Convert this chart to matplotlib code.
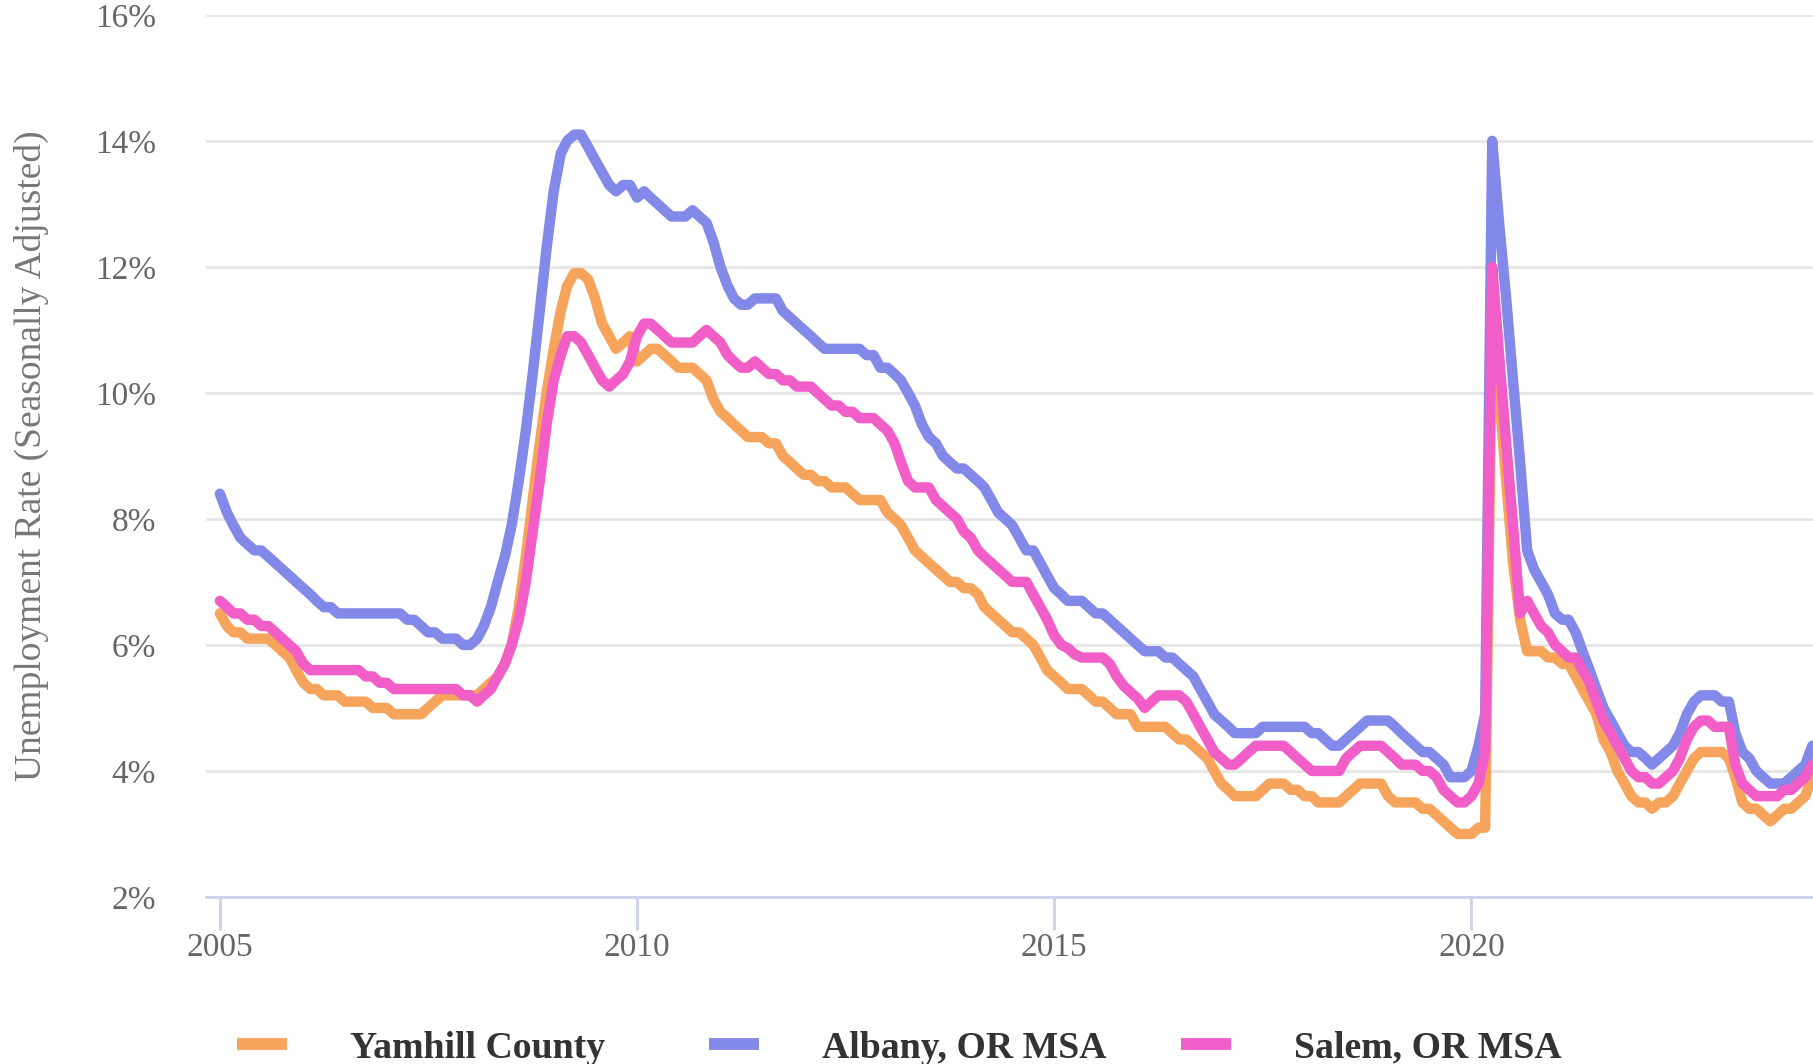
import matplotlib
matplotlib.use('Agg')
import matplotlib.pyplot as plt
import matplotlib.dates as mdates
from matplotlib.lines import Line2D
import pandas as pd

# monthly unemployment rate (%), Jan 2005 - Feb 2024
yamhill = [
    6.5, 6.3, 6.2, 6.2, 6.1, 6.1, 6.1, 6.1, 6.0, 5.9, 5.8, 5.6,        # 2005
    5.4, 5.3, 5.3, 5.2, 5.2, 5.2, 5.1, 5.1, 5.1, 5.1, 5.0, 5.0,        # 2006
    5.0, 4.9, 4.9, 4.9, 4.9, 4.9, 5.0, 5.1, 5.2, 5.2, 5.2, 5.2,        # 2007
    5.2, 5.2, 5.3, 5.4, 5.5, 5.7, 6.0, 6.6, 7.4, 8.3, 9.2, 10.0,       # 2008
    10.7, 11.3, 11.7, 11.9, 11.9, 11.8, 11.5, 11.1, 10.9, 10.7, 10.8, 10.9,  # 2009
    10.5, 10.6, 10.7, 10.7, 10.6, 10.5, 10.4, 10.4, 10.4, 10.3, 10.2, 9.9,   # 2010
    9.7, 9.6, 9.5, 9.4, 9.3, 9.3, 9.3, 9.2, 9.2, 9.0, 8.9, 8.8,        # 2011
    8.7, 8.7, 8.6, 8.6, 8.5, 8.5, 8.5, 8.4, 8.3, 8.3, 8.3, 8.3,        # 2012
    8.1, 8.0, 7.9, 7.7, 7.5, 7.4, 7.3, 7.2, 7.1, 7.0, 7.0, 6.9,        # 2013
    6.9, 6.8, 6.6, 6.5, 6.4, 6.3, 6.2, 6.2, 6.1, 6.0, 5.8, 5.6,        # 2014
    5.5, 5.4, 5.3, 5.3, 5.3, 5.2, 5.1, 5.1, 5.0, 4.9, 4.9, 4.9,        # 2015
    4.7, 4.7, 4.7, 4.7, 4.7, 4.6, 4.5, 4.5, 4.4, 4.3, 4.2, 4.0,        # 2016
    3.8, 3.7, 3.6, 3.6, 3.6, 3.6, 3.7, 3.8, 3.8, 3.8, 3.7, 3.7,        # 2017
    3.6, 3.6, 3.5, 3.5, 3.5, 3.5, 3.6, 3.7, 3.8, 3.8, 3.8, 3.8,        # 2018
    3.6, 3.5, 3.5, 3.5, 3.5, 3.4, 3.4, 3.3, 3.2, 3.1, 3.0, 3.0,        # 2019
    3.0, 3.1, 3.1, 11.4, 10.0, 8.6, 7.3, 6.4, 5.9, 5.9, 5.9, 5.8,      # 2020
    5.8, 5.7, 5.7, 5.5, 5.3, 5.1, 4.9, 4.5, 4.3, 4.0, 3.8, 3.6,        # 2021
    3.5, 3.5, 3.4, 3.5, 3.5, 3.6, 3.8, 4.0, 4.2, 4.3, 4.3, 4.3,        # 2022
    4.3, 4.2, 3.9, 3.5, 3.4, 3.4, 3.3, 3.2, 3.3, 3.4, 3.4, 3.5,        # 2023
    3.6, 3.9,                                                          # 2024
]

albany = [
    8.4, 8.1, 7.9, 7.7, 7.6, 7.5, 7.5, 7.4, 7.3, 7.2, 7.1, 7.0,        # 2005
    6.9, 6.8, 6.7, 6.6, 6.6, 6.5, 6.5, 6.5, 6.5, 6.5, 6.5, 6.5,        # 2006
    6.5, 6.5, 6.5, 6.4, 6.4, 6.3, 6.2, 6.2, 6.1, 6.1, 6.1, 6.0,        # 2007
    6.0, 6.1, 6.3, 6.6, 7.0, 7.4, 7.9, 8.6, 9.4, 10.3, 11.3, 12.3,     # 2008
    13.2, 13.8, 14.0, 14.1, 14.1, 13.9, 13.7, 13.5, 13.3, 13.2, 13.3, 13.3,  # 2009
    13.1, 13.2, 13.1, 13.0, 12.9, 12.8, 12.8, 12.8, 12.9, 12.8, 12.7, 12.4,  # 2010
    12.0, 11.7, 11.5, 11.4, 11.4, 11.5, 11.5, 11.5, 11.5, 11.3, 11.2, 11.1,  # 2011
    11.0, 10.9, 10.8, 10.7, 10.7, 10.7, 10.7, 10.7, 10.7, 10.6, 10.6, 10.4,  # 2012
    10.4, 10.3, 10.2, 10.0, 9.8, 9.5, 9.3, 9.2, 9.0, 8.9, 8.8, 8.8,    # 2013
    8.7, 8.6, 8.5, 8.3, 8.1, 8.0, 7.9, 7.7, 7.5, 7.5, 7.3, 7.1,        # 2014
    6.9, 6.8, 6.7, 6.7, 6.7, 6.6, 6.5, 6.5, 6.4, 6.3, 6.2, 6.1,        # 2015
    6.0, 5.9, 5.9, 5.9, 5.8, 5.8, 5.7, 5.6, 5.5, 5.3, 5.1, 4.9,        # 2016
    4.8, 4.7, 4.6, 4.6, 4.6, 4.6, 4.7, 4.7, 4.7, 4.7, 4.7, 4.7,        # 2017
    4.7, 4.6, 4.6, 4.5, 4.4, 4.4, 4.5, 4.6, 4.7, 4.8, 4.8, 4.8,        # 2018
    4.8, 4.7, 4.6, 4.5, 4.4, 4.3, 4.3, 4.2, 4.1, 3.9, 3.9, 3.9,        # 2019
    4.0, 4.4, 4.9, 14.0, 12.7, 11.5, 10.2, 8.9, 7.5, 7.2, 7.0, 6.8,    # 2020
    6.5, 6.4, 6.4, 6.2, 5.9, 5.6, 5.3, 5.0, 4.8, 4.6, 4.4, 4.3,        # 2021
    4.3, 4.2, 4.1, 4.2, 4.3, 4.4, 4.6, 4.9, 5.1, 5.2, 5.2, 5.2,        # 2022
    5.1, 5.1, 4.6, 4.3, 4.2, 4.0, 3.9, 3.8, 3.8, 3.8, 3.9, 4.0,        # 2023
    4.1, 4.4,                                                          # 2024
]

salem = [
    6.7, 6.6, 6.5, 6.5, 6.4, 6.4, 6.3, 6.3, 6.2, 6.1, 6.0, 5.9,        # 2005
    5.7, 5.6, 5.6, 5.6, 5.6, 5.6, 5.6, 5.6, 5.6, 5.5, 5.5, 5.4,        # 2006
    5.4, 5.3, 5.3, 5.3, 5.3, 5.3, 5.3, 5.3, 5.3, 5.3, 5.3, 5.2,        # 2007
    5.2, 5.1, 5.2, 5.3, 5.5, 5.7, 6.0, 6.4, 7.0, 7.8, 8.6, 9.5,        # 2008
    10.2, 10.6, 10.9, 10.9, 10.8, 10.6, 10.4, 10.2, 10.1, 10.2, 10.3, 10.5,  # 2009
    10.9, 11.1, 11.1, 11.0, 10.9, 10.8, 10.8, 10.8, 10.8, 10.9, 11.0, 10.9,  # 2010
    10.8, 10.6, 10.5, 10.4, 10.4, 10.5, 10.4, 10.3, 10.3, 10.2, 10.2, 10.1,  # 2011
    10.1, 10.1, 10.0, 9.9, 9.8, 9.8, 9.7, 9.7, 9.6, 9.6, 9.6, 9.5,     # 2012
    9.4, 9.2, 8.9, 8.6, 8.5, 8.5, 8.5, 8.3, 8.2, 8.1, 8.0, 7.8,        # 2013
    7.7, 7.5, 7.4, 7.3, 7.2, 7.1, 7.0, 7.0, 7.0, 6.8, 6.6, 6.4,        # 2014
    6.15, 6.0, 5.95, 5.85, 5.8, 5.8, 5.8, 5.8, 5.7, 5.5, 5.35, 5.25,   # 2015
    5.15, 5.0, 5.1, 5.2, 5.2, 5.2, 5.2, 5.1, 4.9, 4.7, 4.5, 4.3,       # 2016
    4.2, 4.1, 4.1, 4.2, 4.3, 4.4, 4.4, 4.4, 4.4, 4.4, 4.3, 4.2,        # 2017
    4.1, 4.0, 4.0, 4.0, 4.0, 4.0, 4.2, 4.3, 4.4, 4.4, 4.4, 4.4,        # 2018
    4.3, 4.2, 4.1, 4.1, 4.1, 4.0, 4.0, 3.9, 3.7, 3.6, 3.5, 3.5,        # 2019
    3.6, 3.8, 4.3, 12.0, 10.6, 9.2, 7.9, 6.5, 6.7, 6.5, 6.3, 6.2,      # 2020
    6.0, 5.9, 5.8, 5.8, 5.6, 5.4, 5.1, 4.8, 4.6, 4.4, 4.2, 4.0,        # 2021
    3.9, 3.9, 3.8, 3.8, 3.9, 4.0, 4.2, 4.5, 4.7, 4.8, 4.8, 4.7,        # 2022
    4.7, 4.7, 4.1, 3.8, 3.7, 3.6, 3.6, 3.6, 3.6, 3.7, 3.7, 3.8,        # 2023
    3.9, 4.1,                                                          # 2024
]

names = ['Yamhill County', 'Albany, OR MSA', 'Salem, OR MSA']
colors = ['#f6a45c', '#8389e8', '#f25ec8']
y_ticks = [2, 4, 6, 8, 10, 12, 14, 16]

months = pd.date_range('2005-01-01', periods=len(yamhill), freq='MS')

plt.rcParams['font.family'] = ['Liberation Serif', 'DejaVu Serif']

fig = plt.figure(figsize=(18.13, 10.64), dpi=100)
ax = fig.add_axes([0.1136, 0.157, 0.8864, 0.829])

for name, vals, color in zip(names, [yamhill, albany, salem], colors):
    ax.plot(months, vals, color=color, lw=7.5, label=name,
            solid_capstyle='round', solid_joinstyle='round')

ax.set_ylim(2, 16)
ax.set_yticks(y_ticks)
ax.set_yticklabels([f'{v}%' for v in y_ticks])
ax.set_xlim(pd.Timestamp('2004-11-01'), pd.Timestamp('2024-02-04'))
ax.xaxis.set_major_locator(mdates.YearLocator(5))
ax.xaxis.set_major_formatter(mdates.DateFormatter('%Y'))

for side in ['top', 'right', 'left']:
    ax.spines[side].set_visible(False)
ax.spines['bottom'].set_color('#c9d3ea')
ax.spines['bottom'].set_linewidth(2)

ax.tick_params(axis='x', length=24, width=2, color='#c9d3ea',
               labelsize=24, labelcolor='#666666', pad=1.5)
ax.tick_params(axis='y', length=0, labelsize=24, labelcolor='#666666', pad=36)
ax.grid(axis='y', color='#e6e6e6', lw=2)
ax.set_axisbelow(True)

fig.text(31 / 1813, 0.572, 'Unemployment Rate (Seasonally Adjusted)',
         rotation=90, ha='center', va='center', fontsize=27, color='#777777')

# legend items sit on a fixed pitch, one small legend per entry
legend_x = [237, 709, 1181]
for name, color, x0 in zip(names, colors, legend_x):
    handle = Line2D([], [], color=color, lw=8.5, solid_capstyle='butt')
    fig.legend([handle], [name], loc='center left',
               bbox_to_anchor=(x0 / 1813, 1 - 1048 / 1064),
               frameon=False, borderpad=0, borderaxespad=0,
               handlelength=1.33, handletextpad=1.66,
               prop={'weight': 'bold', 'size': 27.2}, labelcolor='#333333')

fig.savefig('out.png', dpi=100)
